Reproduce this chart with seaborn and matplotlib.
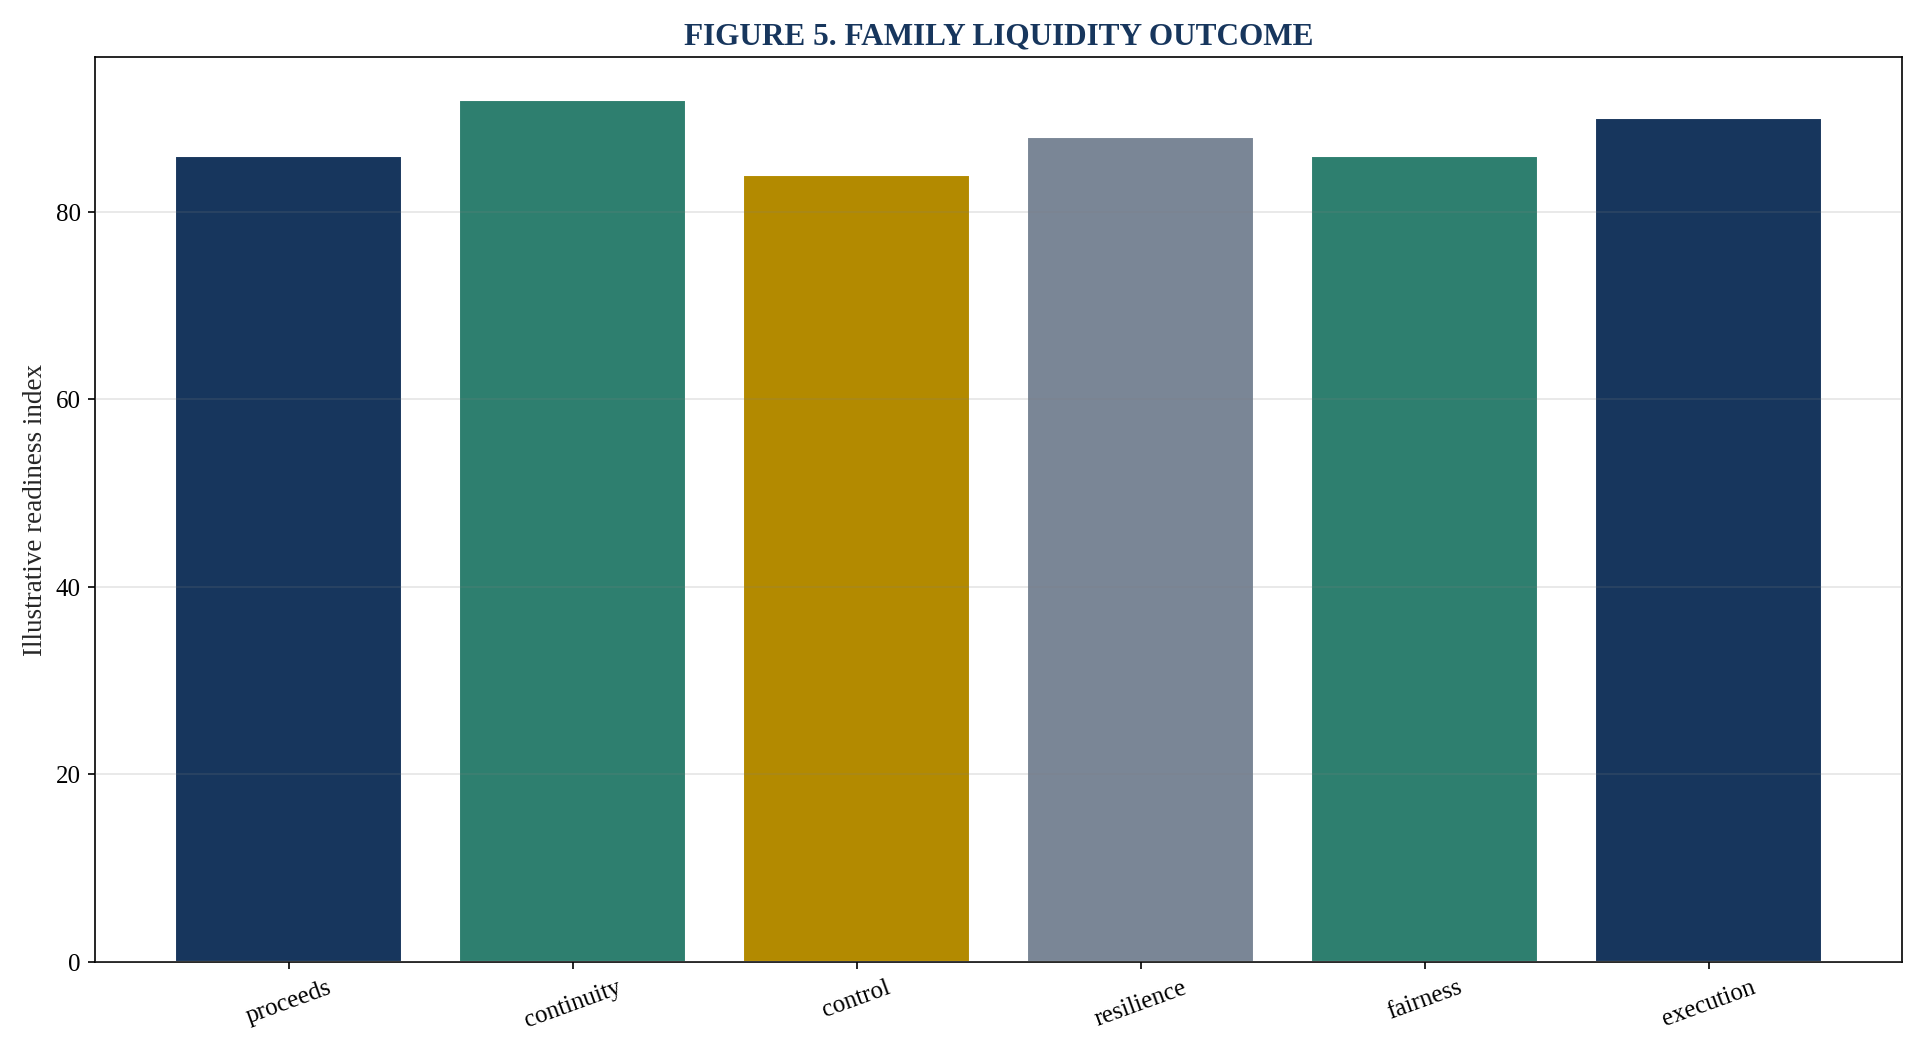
import matplotlib
matplotlib.use("Agg")
import matplotlib.pyplot as plt
import seaborn as sns
import pandas as pd

# values
categories = ["proceeds", "continuity", "control", "resilience", "fairness", "execution"]
scores = [86, 92, 84, 88, 86, 90]
bar_colours = ["#17365d", "#2e7f6f", "#b38a00", "#7a8696", "#2e7f6f", "#17365d"]

sns.set_style("ticks")
plt.rcParams["font.family"] = ["Liberation Serif", "DejaVu Serif"]

df = pd.DataFrame({"category": categories, "score": scores})

fig, ax = plt.subplots(figsize=(12.83, 7.03), dpi=150)
sns.barplot(data=df, x="category", y="score", hue="category", palette=bar_colours,
            legend=False, width=0.8, saturation=1, ax=ax)

ax.set_ylim(0, max(scores) * 1.05)
ax.set_xlim(-0.68, len(categories) - 0.32)
ax.set_xlabel("")
ax.set_ylabel("Illustrative readiness index", fontsize=13)
ax.set_title("FIGURE 5. FAMILY LIQUIDITY OUTCOME", fontsize=15, fontweight="bold",
             color="#17365d")
ax.yaxis.grid(True, color="#808080", alpha=0.18, linewidth=0.9)
ax.set_axisbelow(False)
ax.tick_params(axis="x", labelrotation=20, labelsize=12, colors="black")
ax.tick_params(axis="y", labelsize=12, colors="black")
for s in ax.spines.values():
    s.set_visible(True)
    s.set_color("black")

plt.tight_layout()
plt.savefig("out.png", dpi=150)
